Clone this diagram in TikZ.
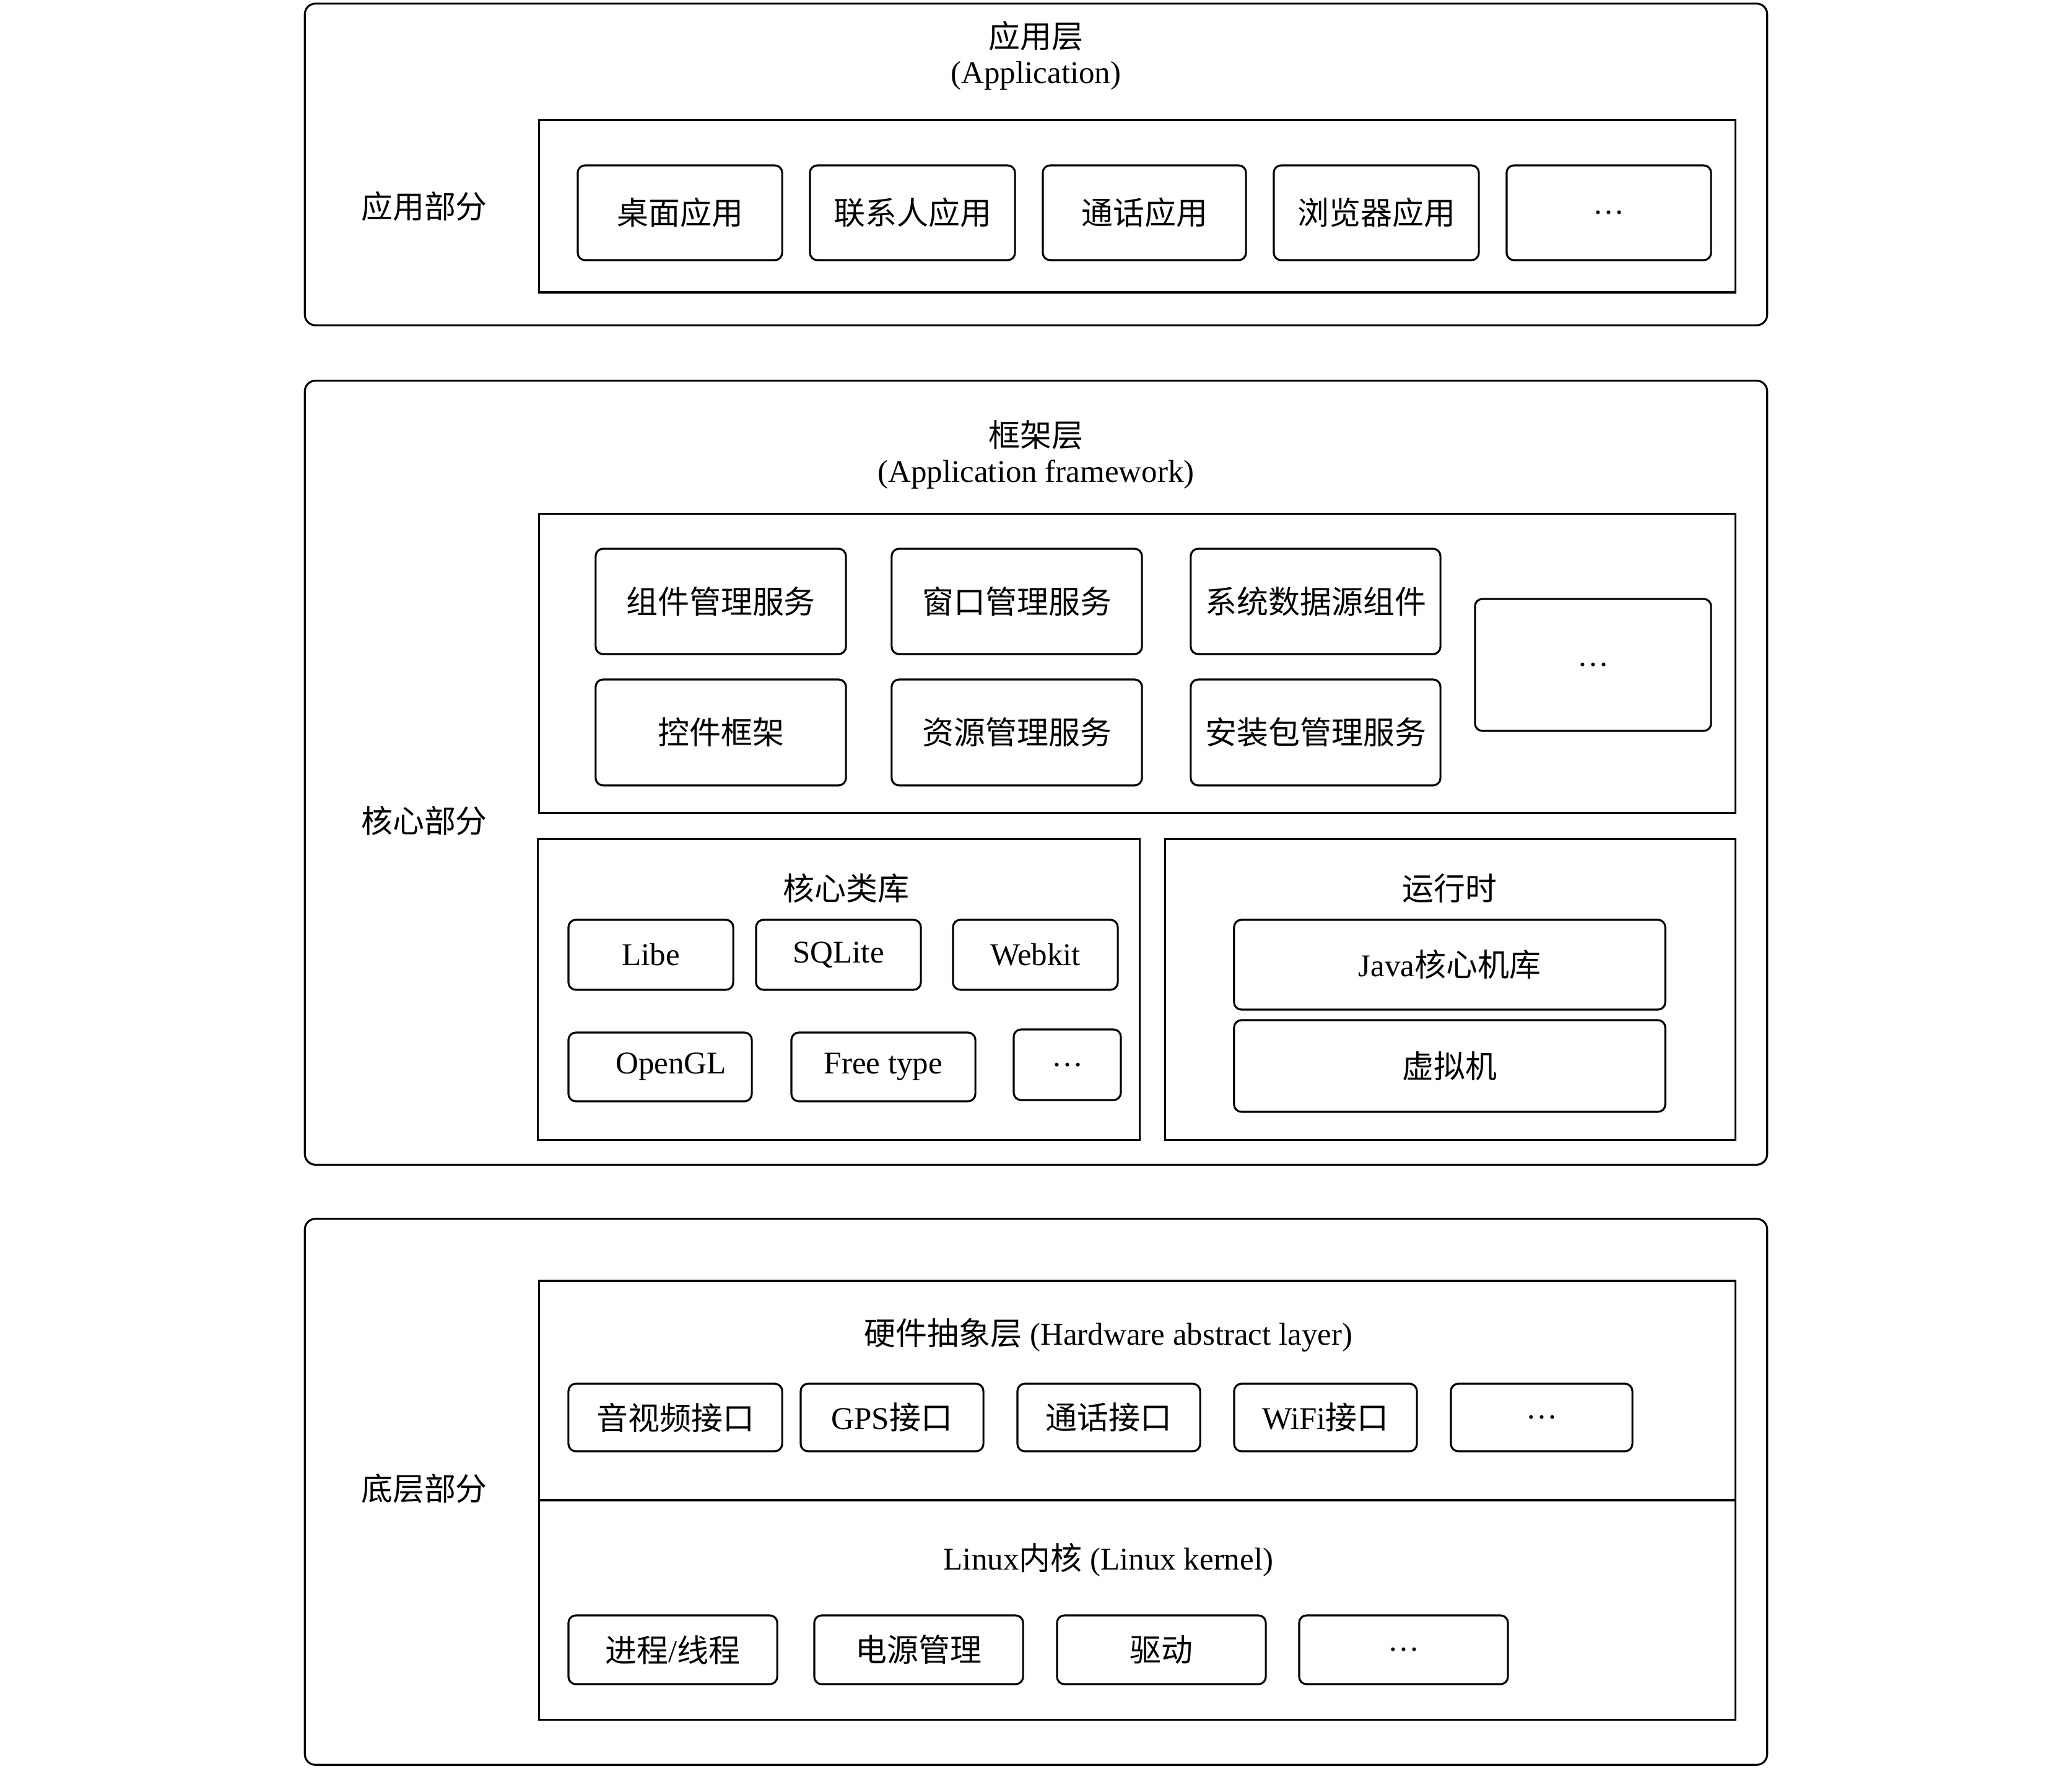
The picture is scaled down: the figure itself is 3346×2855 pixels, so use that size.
\documentclass[tikz,border=0pt]{standalone}
\usepackage{fontspec}
\setmainfont{Liberation Serif}
\newfontfamily\cjk{Noto Sans CJK SC}
\newcommand\zh[1]{{\cjk #1}}
\newcommand\mybox[7][]{%
  \pgfmathsetmacro\bw{(#5-#3)/100}%
  \pgfmathsetmacro\bh{(#6-#4)/100}%
  \node[#1, minimum width=\bw cm, minimum height=\bh cm] (#2) at ({(#3+#5)/2},{(#4+#6)/2}) {#7};}
\tikzset{
  outerbox/.style={draw, line width=0.9pt, rounded corners=0.17cm, inner sep=0pt, outer sep=0pt},
  groupbox/.style={draw, line width=0.9pt, inner sep=0pt, outer sep=0pt},
  itembox/.style={draw, line width=0.9pt, rounded corners=0.12cm, inner sep=0pt, outer sep=0pt},
  lbl/.style={inner sep=0pt, outer sep=0pt}
}
\begin{document}
\begin{tikzpicture}[x=0.01cm, y=-0.01cm, font=\fontsize{14.5}{17.4}\selectfont]
\useasboundingbox (0,0) rectangle (3346,2855);
% ---------- Application layer ----------
\mybox[outerbox]{app}{493}{6}{2853}{525}{}
\node[lbl] (apptitle) at (1673,58) {\zh{应用层}};
\node[lbl] (apptitleen) at (1673,122) {(Application)};
\node[lbl] (appside) at (685,333) {\zh{应用部分}};
\mybox[groupbox]{appin}{871}{194}{2802}{472}{}
\mybox[itembox]{a1}{933}{267}{1263}{420}{\zh{桌面应用}}
\mybox[itembox]{a2}{1308}{267}{1639}{420}{\zh{联系人应用}}
\mybox[itembox]{a3}{1684}{267}{2012}{420}{\zh{通话应用}}
\mybox[itembox]{a4}{2057}{267}{2388}{420}{\zh{浏览器应用}}
\mybox[itembox]{a5}{2433}{267}{2763}{420}{…}
% ---------- Core part ----------
\mybox[outerbox]{core}{493}{615}{2853}{1880}{}
\node[lbl] (fwtitle) at (1673,702) {\zh{框架层}};
\node[lbl] (fwtitleen) at (1673,766) {(Application framework)};
\node[lbl] (coreside) at (685,1325) {\zh{核心部分}};
\mybox[groupbox]{fwin}{871}{830}{2802}{1312}{}
\mybox[itembox]{f11}{962}{886}{1366}{1056}{\zh{组件管理服务}}
\mybox[itembox]{f12}{1440}{886}{1844}{1056}{\zh{窗口管理服务}}
\mybox[itembox]{f13}{1923}{886}{2326}{1056}{\zh{系统数据源组件}}
\mybox[itembox]{f21}{962}{1097}{1366}{1268}{\zh{控件框架}}
\mybox[itembox]{f22}{1440}{1097}{1844}{1268}{\zh{资源管理服务}}
\mybox[itembox]{f23}{1923}{1097}{2326}{1268}{\zh{安装包管理服务}}
\mybox[itembox]{fdots}{2382}{967}{2763}{1180}{…}
\mybox[groupbox]{lib}{869}{1355}{1840}{1840}{}
\node[lbl] (libtitle) at (1366,1434) {\zh{核心类库}};
\mybox[itembox]{l1}{918}{1485}{1184}{1598}{Libe}
\mybox[itembox]{l2}{1221}{1485}{1487}{1598}{SQLite}
\mybox[itembox]{l3}{1539}{1485}{1805}{1598}{Webkit}
\mybox[itembox]{l4}{918}{1667}{1214}{1778}{\hspace{0.35cm}OpenGL}
\mybox[itembox]{l5}{1278}{1667}{1575}{1778}{Free type}
\mybox[itembox]{l6}{1637}{1662}{1810}{1776}{…}
\mybox[groupbox]{rt}{1882}{1355}{2802}{1840}{}
\node[lbl] (rttitle) at (2341,1434) {\zh{运行时}};
\mybox[itembox]{java}{1993}{1485}{2689}{1630}{Java\zh{核心机库}}
\mybox[itembox]{vm}{1993}{1647}{2689}{1795}{\zh{虚拟机}}
% ---------- Bottom part ----------
\mybox[outerbox]{bottom}{493}{1968}{2853}{2849}{}
\node[lbl] (botside) at (685,2403) {\zh{底层部分}};
\mybox[groupbox]{hal}{871}{2068}{2802}{2422}{}
\mybox[groupbox]{kern}{871}{2422}{2802}{2776}{}
\node[lbl] (haltitle) at (1790,2155) {\zh{硬件抽象层} (Hardware abstract layer)};
\mybox[itembox]{h1}{918}{2234}{1263}{2343}{\zh{音视频接口}}
\mybox[itembox]{h2}{1293}{2234}{1588}{2343}{GPS\zh{接口}}
\mybox[itembox]{h3}{1643}{2234}{1938}{2343}{\zh{通话接口}}
\mybox[itembox]{h4}{1993}{2234}{2288}{2343}{WiFi\zh{接口}}
\mybox[itembox]{h5}{2343}{2234}{2636}{2343}{…}
\node[lbl] (kerntitle) at (1790,2518) {Linux\zh{内核} (Linux kernel)};
\mybox[itembox]{k1}{918}{2608}{1255}{2719}{\zh{进程}/\zh{线程}}
\mybox[itembox]{k2}{1315}{2608}{1652}{2719}{\zh{电源管理}}
\mybox[itembox]{k3}{1707}{2608}{2044}{2719}{\zh{驱动}}
\mybox[itembox]{k4}{2098}{2608}{2435}{2719}{…}
\end{tikzpicture}
\end{document}
